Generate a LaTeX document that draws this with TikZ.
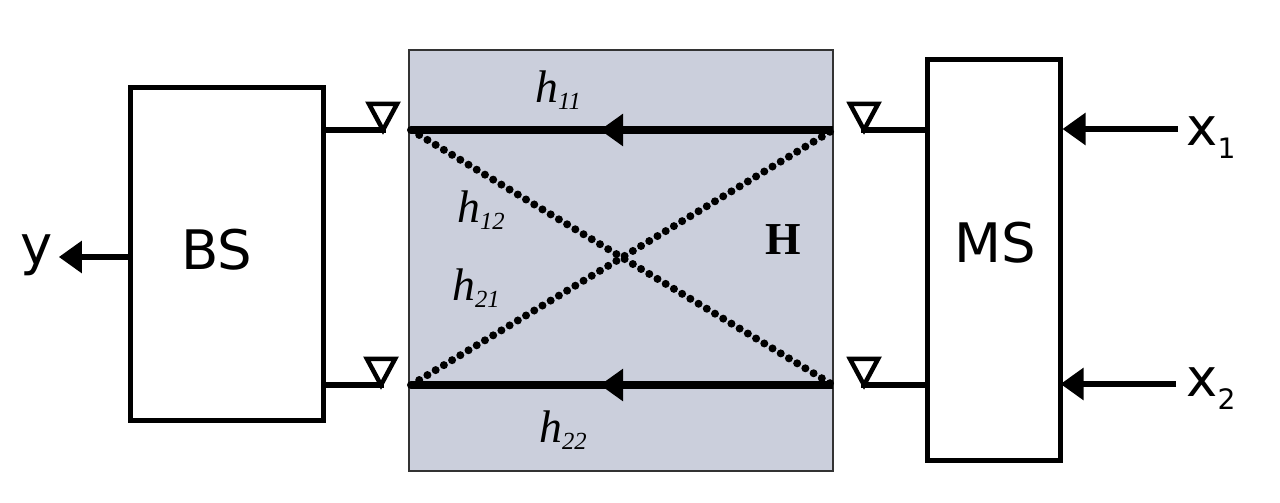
\documentclass[tikz,border=0pt]{standalone}
\usepackage{fontspec}
\setmainfont{DejaVu Sans}
\newfontfamily\chanfont{Liberation Serif}
\usetikzlibrary{arrows.meta}
\newcommand{\chan}[1]{{\chanfont\itshape\fontsize{13}{14}\selectfont h\raisebox{-0.35ex}{\fontsize{7}{8}\selectfont #1}}}
\newcommand{\inp}[1]{{\fontsize{15}{16}\selectfont x\raisebox{-0.45ex}{\fontsize{8}{9}\selectfont #1}}}
\tikzset{
  block/.style={draw,line width=0.05cm,fill=white,inner sep=0pt},
  channel/.style={draw=black!80,line width=0.02cm,fill=chanfill,inner sep=0pt},
  wire/.style={line width=0.065cm},
  direct/.style={line width=0.08cm},
  cross/.style={line width=0.08cm,line cap=round,dash pattern=on 0pt off 0.096cm},
  tip/.style={line width=0.065cm,-{Triangle[length=0.23cm,width=0.31cm]}},
  antenna/.style={line width=0.045cm,line join=miter},
  lbl/.style={inner sep=0pt}
}
\definecolor{chanfill}{RGB}{203,207,220}
\begin{document}
\begin{tikzpicture}
\useasboundingbox (0,0) rectangle (12.8,5.03);

\node[channel,minimum width=4.24cm,minimum height=4.21cm] (H) at (6.21,2.425) {};
\node[block,minimum width=1.93cm,minimum height=3.33cm] (BS) at (2.265,2.485) {};
\node[block,minimum width=1.33cm,minimum height=4.01cm] (MS) at (9.935,2.425) {};

\node[lbl,font=\fontsize{15.5}{16}\selectfont] (bstext) at (2.165,2.53) {BS};
\node[lbl,font=\fontsize{15.5}{16}\selectfont] (mstext) at (9.95,2.6) {MS};
\node[lbl,font=\fontsize{15.5}{16}\selectfont] (y) at (0.37,2.48) {y};
\node[lbl] (x1) at (12.11,3.65) {\inp{1}};
\node[lbl] (x2) at (12.11,1.14) {\inp{2}};

\node[lbl] (h11) at (5.58,4.13) {\chan{11}};
\node[lbl] (h12) at (4.81,2.93) {\chan{12}};
\node[lbl] (h21) at (4.76,2.15) {\chan{21}};
\node[lbl] (h22) at (5.63,0.73) {\chan{22}};
\node[lbl,font=\chanfont\bfseries\fontsize{13}{14}\selectfont] (Hlabel) at (7.83,2.63) {H};

% antennas
\coordinate (a1) at (3.83,3.73);
\coordinate (a2) at (3.81,1.18);
\coordinate (a3) at (8.64,3.73);
\coordinate (a4) at (8.64,1.18);
\foreach \a in {a1,a2,a3,a4}
  \draw[antenna] ([shift={(-0.14,0.26)}]\a) -- ([shift={(0.14,0.26)}]\a) -- (\a) -- cycle;

\draw[wire] (BS.east |- a1) -- ([xshift=0.03cm]a1);
\draw[wire] (BS.east |- a2) -- ([xshift=0.03cm]a2);
\draw[wire] (MS.west |- a3) -- ([xshift=-0.03cm]a3);
\draw[wire] (MS.west |- a4) -- ([xshift=-0.03cm]a4);

% channel paths
\coordinate (tl) at (4.11,3.73);
\coordinate (tr) at (8.33,3.73);
\coordinate (bl) at (4.11,1.18);
\coordinate (br) at (8.33,1.18);
\coordinate (m1) at (6.0,3.73);
\coordinate (m2) at (6.0,1.18);
\draw[direct] (tr) -- (tl);
\draw[direct] (br) -- (bl);
\draw[tip] (tr) -- (m1);
\draw[tip] (br) -- (m2);
\draw[cross] (tl) -- (br);
\draw[cross] (bl) -- (tr);

% inputs and output
\coordinate (i1) at (11.78,3.74);
\coordinate (i2) at (11.76,1.19);
\coordinate (o1) at (1.3,2.46);
\draw[tip] (i1) -- (MS.east |- i1);
\draw[tip] (i2) -- ([xshift=-0.02cm]MS.east |- i2);
\draw[tip] (o1) -- ([xshift=0.05cm]y.east |- o1);
\end{tikzpicture}
\end{document}
